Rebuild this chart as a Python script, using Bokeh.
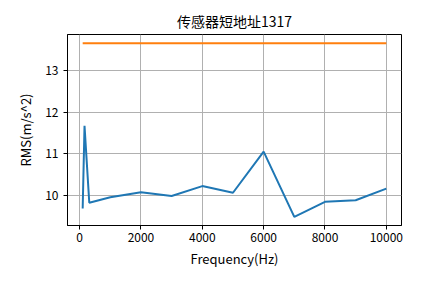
from bokeh.plotting import figure
from bokeh.models import Range1d, FixedTicker, Title
from bokeh.embed import file_html
from bokeh.resources import INLINE

# Data
freq = [100, 160, 315, 1000, 2000, 3000, 4000, 5000, 6000, 7000, 8000, 9000, 10000]
rms = [9.68, 11.67, 9.82, 9.95, 10.07, 9.98, 10.22, 10.06, 11.05, 9.48, 9.84, 9.88, 10.16]
limit_freq = [100, 10000]
limit_rms = [13.66, 13.66]

title_text = "传感器短地址1317"
x_label = "Frequency(Hz)"
y_label = "RMS(m/s^2)"
x_ticks = [0, 2000, 4000, 6000, 8000, 10000]
y_ticks = [10, 11, 12, 13]

FONT = "Noto Sans CJK SC"

allx = freq + limit_freq
ally = rms + limit_rms
xmin, xmax = min(allx), max(allx)
ymin, ymax = min(ally), max(ally)
xm = (xmax - xmin) * 0.05
ym = (ymax - ymin) * 0.05

p = figure(width=445, height=283, output_backend="svg", toolbar_location=None,
           x_range=Range1d(xmin - xm, xmax + xm), y_range=Range1d(ymin - ym, ymax + ym),
           min_border_left=67, min_border_right=44, min_border_top=34, min_border_bottom=58)
p.frame_width = 334
p.frame_height = 191

p.title = Title(text=title_text, align="center", text_font=FONT, text_font_size="14px",
                text_font_style="normal", text_color="black", standoff=7)

p.line(freq, rms, line_color="#1f77b4", line_width=2)
p.line(limit_freq, limit_rms, line_color="#ff7f0e", line_width=2)

p.xaxis.ticker = FixedTicker(ticks=x_ticks)
p.yaxis.ticker = FixedTicker(ticks=y_ticks)
p.xaxis.axis_label = x_label
p.yaxis.axis_label = y_label

for ax in (p.xaxis[0], p.yaxis[0]):
    ax.axis_label_text_font = FONT
    ax.axis_label_text_font_size = "13px"
    ax.axis_label_text_font_style = "normal"
    ax.axis_label_text_color = "black"
    ax.major_label_text_font = FONT
    ax.major_label_text_font_size = "12px"
    ax.major_label_text_color = "black"
    ax.major_tick_in = 0
    ax.major_tick_out = 4
    ax.minor_tick_in = 0
    ax.minor_tick_out = 0
    ax.axis_line_color = "black"
    ax.major_tick_line_color = "black"
    ax.major_label_standoff = 3
    ax.axis_label_standoff = 4

p.yaxis[0].major_label_standoff = 5
p.yaxis[0].axis_label_standoff = 7

p.grid.grid_line_color = "#b0b0b0"
p.grid.grid_line_width = 1
p.outline_line_color = "black"
p.outline_line_width = 1
p.background_fill_color = "white"
p.border_fill_color = "white"

open("out.html", "w").write(file_html(p, INLINE))
